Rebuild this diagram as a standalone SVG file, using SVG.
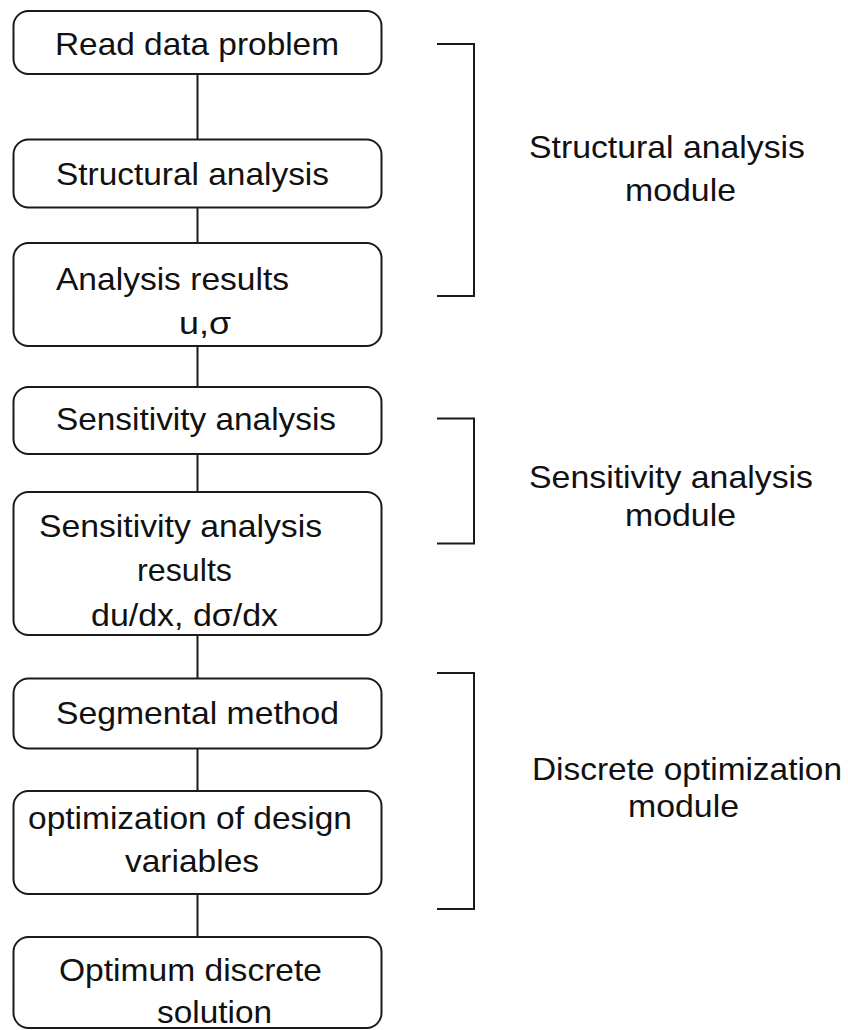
<svg xmlns="http://www.w3.org/2000/svg" width="848" height="1030" viewBox="0 0 848 1030">
<style>
.box{fill:#fff;stroke:#1a1a1a;stroke-width:2}
.ln{fill:none;stroke:#1a1a1a;stroke-width:2}
text{font-family:"Liberation Sans",Arial,sans-serif;font-size:32px;fill:#111}
</style>
<rect width="848" height="1030" fill="#fff"/>
<g id="connectors">
<line class="ln" x1="197.5" y1="74" x2="197.5" y2="139.5"/>
<line class="ln" x1="197.5" y1="207" x2="197.5" y2="243"/>
<line class="ln" x1="197.5" y1="346" x2="197.5" y2="387"/>
<line class="ln" x1="197.5" y1="454" x2="197.5" y2="492"/>
<line class="ln" x1="197.5" y1="635" x2="197.5" y2="678.5"/>
<line class="ln" x1="197.5" y1="748.5" x2="197.5" y2="791"/>
<line class="ln" x1="197.5" y1="894" x2="197.5" y2="937"/>
</g>
<g id="n1"><rect class="box" x="13.5" y="11" width="368" height="63" rx="15"/>
<text x="55" y="55" textLength="284" lengthAdjust="spacingAndGlyphs">Read data problem</text></g>
<g id="n2"><rect class="box" x="13.5" y="139.5" width="368" height="68" rx="15"/>
<text x="56" y="185" textLength="273" lengthAdjust="spacingAndGlyphs">Structural analysis</text></g>
<g id="n3"><rect class="box" x="13.5" y="243" width="368" height="103" rx="15"/>
<text x="56" y="290" textLength="233" lengthAdjust="spacingAndGlyphs">Analysis results</text>
<text x="179" y="334" textLength="52" lengthAdjust="spacingAndGlyphs">u,σ</text></g>
<g id="n4"><rect class="box" x="13.5" y="387" width="368" height="67" rx="15"/>
<text x="56" y="430" textLength="280" lengthAdjust="spacingAndGlyphs">Sensitivity analysis</text></g>
<g id="n5"><rect class="box" x="13.5" y="492" width="368" height="143" rx="15"/>
<text x="39" y="537" textLength="283" lengthAdjust="spacingAndGlyphs">Sensitivity analysis</text>
<text x="137" y="581" textLength="95" lengthAdjust="spacingAndGlyphs">results</text>
<text x="91" y="626" textLength="187" lengthAdjust="spacingAndGlyphs">du/dx, dσ/dx</text></g>
<g id="n6"><rect class="box" x="13.5" y="678.5" width="368" height="70" rx="15"/>
<text x="56" y="724" textLength="283" lengthAdjust="spacingAndGlyphs">Segmental method</text></g>
<g id="n7"><rect class="box" x="13.5" y="791" width="368" height="103" rx="15"/>
<text x="28" y="829" textLength="324" lengthAdjust="spacingAndGlyphs">optimization of design</text>
<text x="125" y="872" textLength="134" lengthAdjust="spacingAndGlyphs">variables</text></g>
<g id="n8"><rect class="box" x="13.5" y="937" width="368" height="91" rx="15"/>
<text x="59" y="981" textLength="263" lengthAdjust="spacingAndGlyphs">Optimum discrete</text>
<text x="157" y="1023" textLength="115" lengthAdjust="spacingAndGlyphs">solution</text></g>
<g id="m1"><polyline class="ln" points="437,44 474,44 474,296 437,296"/>
<text x="529" y="158" textLength="276" lengthAdjust="spacingAndGlyphs">Structural analysis</text>
<text x="625" y="201" textLength="111" lengthAdjust="spacingAndGlyphs">module</text></g>
<g id="m2"><polyline class="ln" points="437,418.5 474,418.5 474,543.5 437,543.5"/>
<text x="529" y="488" textLength="284" lengthAdjust="spacingAndGlyphs">Sensitivity analysis</text>
<text x="625" y="526" textLength="111" lengthAdjust="spacingAndGlyphs">module</text></g>
<g id="m3"><polyline class="ln" points="437,673 474,673 474,909 437,909"/>
<text x="532" y="780" textLength="310" lengthAdjust="spacingAndGlyphs">Discrete optimization</text>
<text x="628" y="817" textLength="111" lengthAdjust="spacingAndGlyphs">module</text></g>
</svg>
